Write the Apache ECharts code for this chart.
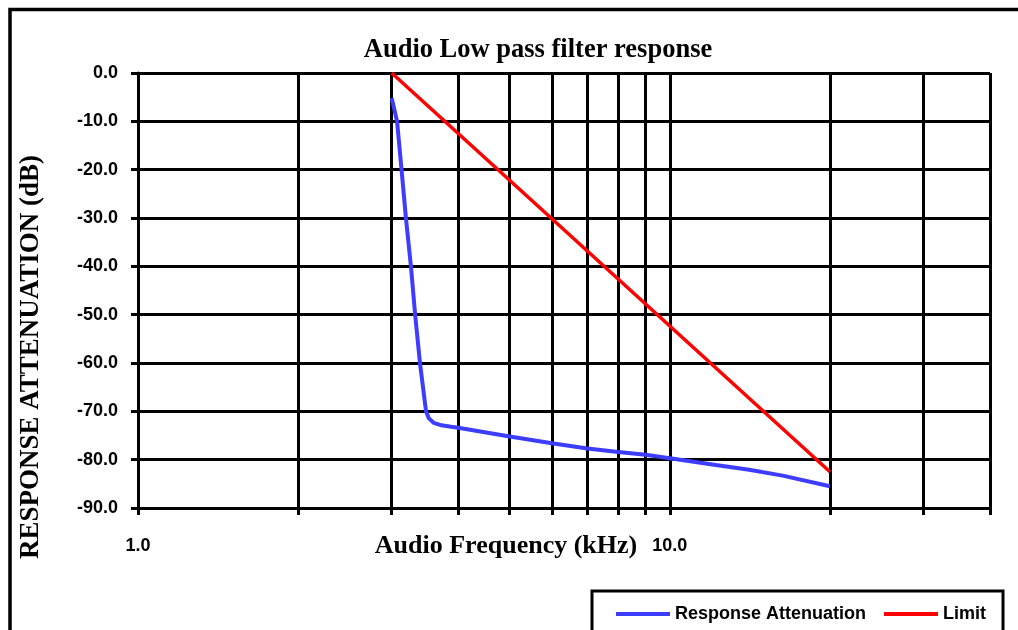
<!DOCTYPE html>
<html>
<head>
<meta charset="utf-8">
<script src="https://cdn.jsdelivr.net/npm/echarts@6/dist/echarts.min.js"></script>
<style>
html,body{margin:0;padding:0;background:#fff;}
#chart{width:1018px;height:630px;}
</style>
</head>
<body>
<div id="chart"></div>
<script>
// ---- data ----
const responseFreq = [3.0, 3.07, 3.13, 3.19, 3.26, 3.32, 3.39, 3.48, 3.52, 3.6, 3.72, 3.88, 4, 5, 6, 7, 8, 9, 10, 12.2, 14.1, 16.3, 20];
const responseDb   = [-5.2, -10, -20, -30, -40, -50, -60, -70, -71.4, -72.4, -72.9, -73.2, -73.4, -75.2, -76.6, -77.7, -78.4, -79.0, -79.7, -81.1, -82.1, -83.3, -85.5];
const limitFreq = [3, 20];
const limitDb   = [0, -82.5];
const xTickValues  = [1, 2, 3, 4, 5, 6, 7, 8, 9, 10, 20, 30, 40];
const xLabelValues = [1, 10];
const yMin = -90, yMax = 0, yStep = 10;

const serif = '"Liberation Serif", "Times New Roman", serif';
const sans = '"Liberation Sans", Arial, sans-serif';

const chart = echarts.init(document.getElementById('chart'), null, {renderer: 'canvas'});
chart.setOption({
  backgroundColor: '#fff',
  animation: false,
  title: [
    {text: 'Audio Low pass filter response', left: 533, top: 32, textAlign: 'center',
     textStyle: {fontFamily: serif, fontWeight: 'bold', fontSize: 26.5, color: '#000'}},
    {text: 'Audio Frequency (kHz)', left: 501, top: 528, textAlign: 'center',
     textStyle: {fontFamily: serif, fontWeight: 'bold', fontSize: 26, color: '#000'}}
  ],
  graphic: [
    {type: 'rect', shape: {x: 10, y: 9.5, width: 1030, height: 700}, silent: true,
     style: {fill: null, stroke: '#000', lineWidth: 3.5}, z: 100},
    {type: 'text', x: 31, y: 357, rotation: Math.PI / 2, silent: true,
     style: {text: 'RESPONSE ATTENUATION (dB)', fontFamily: serif, fontWeight: 'bold', fontSize: 27,
             fill: '#000', align: 'center', verticalAlign: 'middle'}}
  ],
  legend: {
    left: 592, top: 591,
    padding: [14, 17, 30, 24],
    borderColor: '#000', borderWidth: 3,
    backgroundColor: '#fff',
    icon: 'rect',
    itemWidth: 54, itemHeight: 4, itemGap: 18,
    textStyle: {fontFamily: sans, fontWeight: 'bold', fontSize: 18, color: '#000'},
    data: ['Response Attenuation', 'Limit']
  },
  grid: {left: 138, right: 28, top: 73, bottom: 122, containLabel: false, outerBoundsMode: 'none'},
  xAxis: {
    type: 'log', logBase: 10, min: 1, max: 40, position: 'bottom',
    axisLine: {show: true, onZero: false, lineStyle: {color: '#000', width: 3}},
    axisTick: {show: true, customValues: xTickValues, length: 7, lineStyle: {color: '#000', width: 3}},
    axisLabel: {customValues: xLabelValues, margin: 29, color: '#000', fontFamily: sans, fontWeight: 'bold', fontSize: 18,
                formatter: v => Number(v).toFixed(1)},
    splitLine: {show: true, lineStyle: {color: '#000', width: 3}},
    minorTick: {show: false}, minorSplitLine: {show: false}
  },
  yAxis: {
    type: 'value', min: yMin, max: yMax, interval: yStep, position: 'left',
    axisLine: {show: true, onZero: false, lineStyle: {color: '#000', width: 3}},
    axisTick: {show: true, length: 7, lineStyle: {color: '#000', width: 3}},
    axisLabel: {margin: 20, color: '#000', fontFamily: sans, fontWeight: 'bold', fontSize: 18,
                formatter: v => Number(v).toFixed(1)},
    splitLine: {show: true, lineStyle: {color: '#000', width: 3}}
  },
  series: [
    {name: 'Response Attenuation', type: 'line', symbol: 'none', smooth: false,
     data: responseFreq.map((f, i) => [f, responseDb[i]]),
     lineStyle: {color: '#3d3dff', width: 4}, itemStyle: {color: '#3d3dff'}, z: 5},
    {name: 'Limit', type: 'line', symbol: 'none',
     data: limitFreq.map((f, i) => [f, limitDb[i]]),
     lineStyle: {color: '#ff0000', width: 3.5}, itemStyle: {color: '#ff0000'}, z: 6}
  ]
});
</script>
</body>
</html>
